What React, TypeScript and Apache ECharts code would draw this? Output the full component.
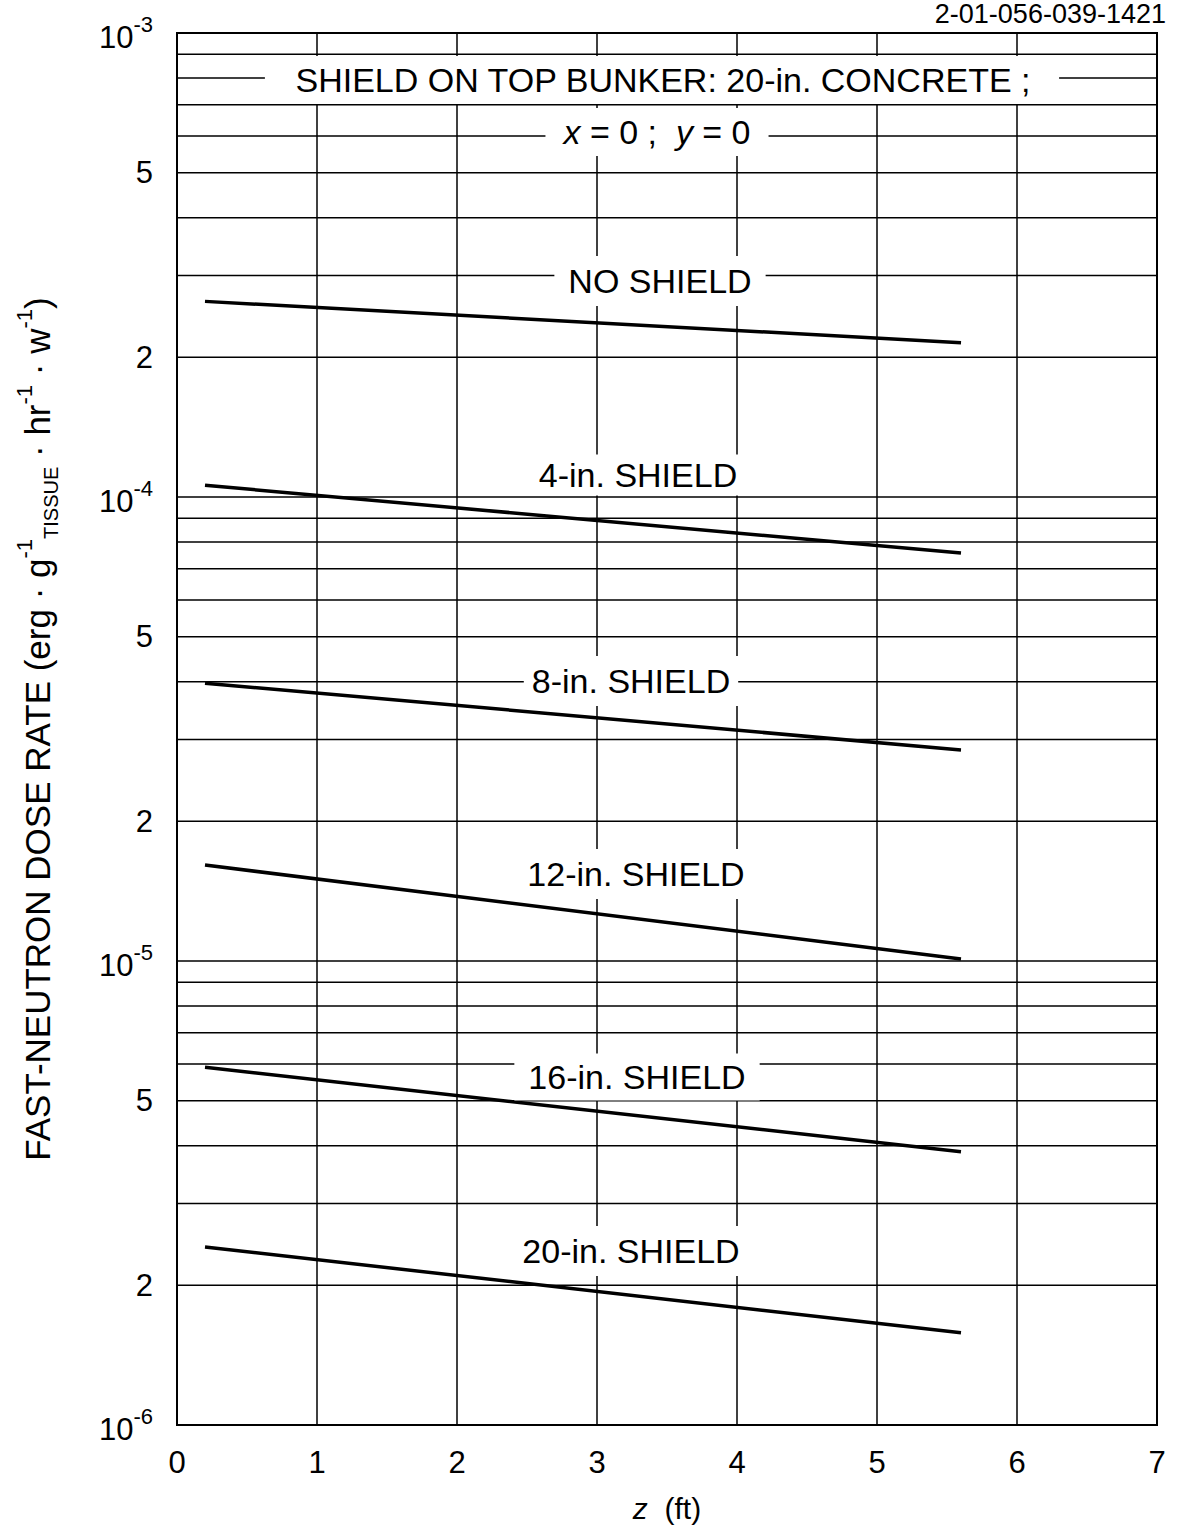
import React, { useEffect, useRef } from "react";
import * as echarts from "echarts";

// ---- data ----
const zFeet = [0.2, 5.6];
const noShield = [2.64e-4, 2.15e-4];
const shield4 = [1.06e-4, 7.57e-5];
const shield8 = [3.97e-5, 2.85e-5];
const shield12 = [1.61e-5, 1.01e-5];
const shield16 = [5.9e-6, 3.88e-6];
const shield20 = [2.42e-6, 1.58e-6];

const seriesNames = ["NO SHIELD", "4-in. SHIELD", "8-in. SHIELD", "12-in. SHIELD", "16-in. SHIELD", "20-in. SHIELD"];
const seriesValues = [noShield, shield4, shield8, shield12, shield16, shield20];

// grid lines within each decade and the decades
const decadeExponents = [-4, -5, -6];
const minorMultipliers = [2, 3, 4, 5, 6, 7, 8, 9];
const labeledMultipliers = [5, 2];

const xTicks = [0, 1, 2, 3, 4, 5, 6, 7];
const xMin = 0;
const xMax = 7;

const FONT = "'Liberation Sans', Arial, sans-serif";

// label boxes (annotation positions, px): x, y, padding [top, right, bottom, left]
const labelPlacement = [
  { x: 660, y: 281, pad: [8, 14, 8, 14] },
  { x: 638, y: 475, pad: [6, 12, 1, 12] },
  { x: 631, y: 681, pad: [8, 8, 8, 8] },
  { x: 636, y: 874, pad: [8, 12, 8, 12] },
  { x: 637, y: 1077, pad: [10, 14, 3, 14] },
  { x: 631, y: 1251, pad: [8, 12, 8, 12] },
];

export default function App() {
  const ref = useRef<HTMLDivElement>(null);

  useEffect(() => {
    if (!ref.current) return;
    const chart = echarts.init(ref.current, null, { renderer: "svg" });

    // minor horizontal grid lines (2..9 x 10^n) as thin line series across the axis range
    const gridSeries: any[] = [];
    decadeExponents.forEach((e) => {
      minorMultipliers.forEach((m) => {
        const v = m * Math.pow(10, e);
        const labeled = labeledMultipliers.includes(m);
        gridSeries.push({
          type: "line",
          silent: true,
          data: [
            labeled
              ? {
                  value: [xMin, v],
                  label: {
                    show: true,
                    position: "left",
                    distance: 24,
                    formatter: String(m),
                    color: "#000",
                    fontSize: 31,
                    fontFamily: FONT,
                  },
                }
              : { value: [xMin, v] },
            { value: [xMax, v] },
          ],
          showSymbol: true,
          symbol: "circle",
          symbolSize: 0,
          itemStyle: { color: "#000" },
          lineStyle: { color: "#000", width: 1.5 },
          z: 1,
          clip: false,
        });
      });
    });

    const series: any[] = seriesNames.map((name, i) => ({
      name,
      type: "line",
      data: zFeet.map((z, k) => [z, seriesValues[i][k]]),
      showSymbol: false,
      symbol: "none",
      lineStyle: { color: "#000", width: 3.5 },
      z: 5,
    }));

    const graphic: any[] = seriesNames.map((name, i) => ({
      type: "text",
      z: 100,
      style: {
        text: name,
        x: labelPlacement[i].x,
        y: labelPlacement[i].y,
        align: "center",
        verticalAlign: "middle",
        font: `34px ${FONT}`,
        fill: "#000",
        backgroundColor: "#fff",
        padding: labelPlacement[i].pad,
      },
    }));

    graphic.push({
      type: "text",
      z: 100,
      style: {
        text: "SHIELD ON TOP BUNKER: 20-in. CONCRETE ;",
        x: 662,
        y: 80,
        align: "center",
        verticalAlign: "middle",
        font: `34px ${FONT}`,
        fill: "#000",
        backgroundColor: "#fff",
        padding: [7, 28, 7, 30],
      },
    });
    graphic.push({
      type: "text",
      z: 100,
      style: {
        text: "{i|x} = 0 ;  {i|y} = 0",
        x: 657,
        y: 132,
        align: "center",
        verticalAlign: "middle",
        font: `34px ${FONT}`,
        fill: "#000",
        backgroundColor: "#fff",
        padding: [7, 18, 7, 18],
        rich: {
          i: { fontStyle: "italic", fontSize: 34, fontFamily: FONT, fill: "#000" },
        },
      },
    });
    graphic.push({
      type: "text",
      z: 100,
      style: {
        text: "2-01-056-039-1421",
        x: 1166,
        y: 0,
        align: "right",
        verticalAlign: "top",
        font: `27px ${FONT}`,
        fill: "#000",
      },
    });

    chart.setOption({
      animation: false,
      backgroundColor: "#fff",
      textStyle: { fontFamily: FONT, color: "#000" },
      grid: {
        left: 177,
        right: 20,
        top: 33,
        bottom: 103,
        show: true,
        borderColor: "#000",
        borderWidth: 2,
        containLabel: false,
      },
      xAxis: {
        type: "value",
        min: xMin,
        max: xMax,
        interval: 1,
        axisLine: { show: false },
        axisTick: { show: false },
        splitLine: { show: true, lineStyle: { color: "#000", width: 1.5 } },
        axisLabel: {
          color: "#000",
          fontSize: 31,
          fontFamily: FONT,
          margin: 22,
          formatter: (v: number) => (xTicks.includes(v) ? String(v) : ""),
        },
        name: "{i|z}  (ft)",
        nameLocation: "middle",
        nameGap: 68,
        nameTextStyle: {
          color: "#000",
          fontSize: 30,
          fontFamily: FONT,
          rich: {
            i: { fontStyle: "italic", fontSize: 30, fontFamily: FONT, color: "#000" },
          },
        },
      },
      yAxis: {
        type: "log",
        logBase: 10,
        min: 1e-6,
        max: 1e-3,
        axisLine: { show: false },
        axisTick: { show: false },
        splitLine: { show: true, lineStyle: { color: "#000", width: 1.5 } },
        axisLabel: {
          margin: 24,
          formatter: (v: number) => {
            const e = Math.round(Math.log10(v));
            return `{b|10}{s|-${Math.abs(e)}}`;
          },
          rich: {
            b: { fontSize: 31, lineHeight: 40, verticalAlign: "bottom", color: "#000", fontFamily: FONT },
            s: { fontSize: 22, lineHeight: 22, verticalAlign: "top", color: "#000", fontFamily: FONT },
          },
        },
        name:
          "{m|FAST-NEUTRON DOSE RATE (erg · g}{sup|-1}{sub|TISSUE}{m| · hr}{sup|-1}{m| · w}{sup|-1}{m|)}",
        nameLocation: "middle",
        nameRotate: 90,
        nameGap: 116,
        nameTextStyle: {
          color: "#000",
          fontFamily: FONT,
          fontSize: 35,
          rich: {
            m: { fontSize: 35, lineHeight: 48, verticalAlign: "middle", fontFamily: FONT, color: "#000" },
            sup: { fontSize: 22, lineHeight: 22, verticalAlign: "top", fontFamily: FONT, color: "#000" },
            sub: { fontSize: 20, lineHeight: 20, verticalAlign: "bottom", fontFamily: FONT, color: "#000" },
          },
        },
      },
      series: [...gridSeries, ...series],
      graphic,
    });

    return () => chart.dispose();
  }, []);

  return (
    <div
      ref={ref}
      style={{ position: "fixed", left: 0, top: 0, width: 1177, height: 1528, background: "#fff" }}
    />
  );
}
